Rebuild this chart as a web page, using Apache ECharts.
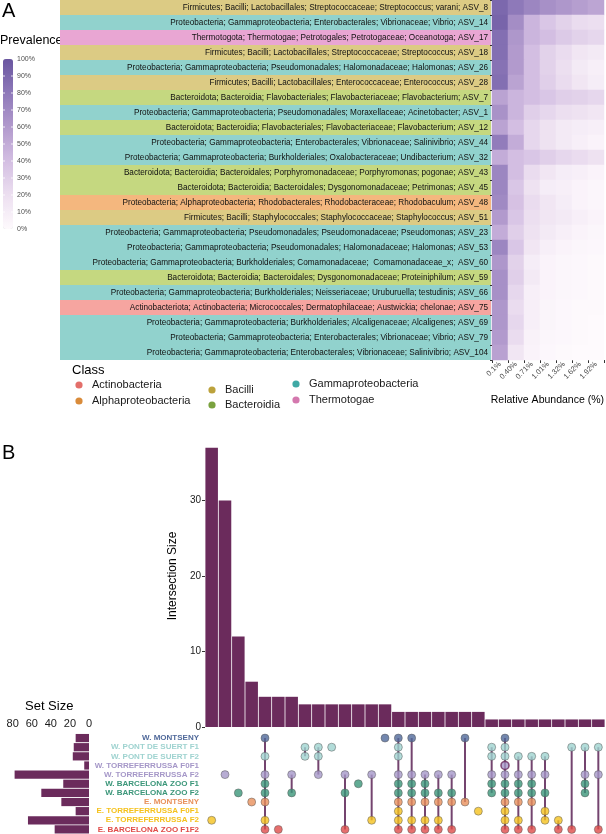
<!DOCTYPE html>
<html><head><meta charset="utf-8">
<script src="https://cdn.jsdelivr.net/npm/echarts@6/dist/echarts.min.js"></script>
<style>html,body{margin:0;padding:0;background:#fff}#c{width:606px;height:834px}</style>
</head><body><div id="c"></div>
<script>
// ---------- Panel A data ----------
const taxa = [
  'Firmicutes; Bacilli; Lactobacillales; Streptococcaceae; Streptococcus; varani; ASV_8',
  'Proteobacteria; Gammaproteobacteria; Enterobacterales; Vibrionaceae; Vibrio; ASV_14',
  'Thermotogota; Thermotogae; Petrotogales; Petrotogaceae; Oceanotoga; ASV_17',
  'Firmicutes; Bacilli; Lactobacillales; Streptococcaceae; Streptococcus; ASV_18',
  'Proteobacteria; Gammaproteobacteria; Pseudomonadales; Halomonadaceae; Halomonas; ASV_26',
  'Firmicutes; Bacilli; Lactobacillales; Enterococcaceae; Enterococcus; ASV_28',
  'Bacteroidota; Bacteroidia; Flavobacteriales; Flavobacteriaceae; Flavobacterium; ASV_7',
  'Proteobacteria; Gammaproteobacteria; Pseudomonadales; Moraxellaceae; Acinetobacter; ASV_1',
  'Bacteroidota; Bacteroidia; Flavobacteriales; Flavobacteriaceae; Flavobacterium; ASV_12',
  'Proteobacteria; Gammaproteobacteria; Enterobacterales; Vibrionaceae; Salinivibrio; ASV_44',
  'Proteobacteria; Gammaproteobacteria; Burkholderiales; Oxalobacteraceae; Undibacterium; ASV_32',
  'Bacteroidota; Bacteroidia; Bacteroidales; Porphyromonadaceae; Porphyromonas; pogonae; ASV_43',
  'Bacteroidota; Bacteroidia; Bacteroidales; Dysgonomonadaceae; Petrimonas; ASV_45',
  'Proteobacteria; Alphaproteobacteria; Rhodobacterales; Rhodobacteraceae; Rhodobaculum; ASV_48',
  'Firmicutes; Bacilli; Staphylococcales; Staphylococcaceae; Staphylococcus; ASV_51',
  'Proteobacteria; Gammaproteobacteria; Pseudomonadales; Pseudomonadaceae; Pseudomonas; ASV_23',
  'Proteobacteria; Gammaproteobacteria; Pseudomonadales; Halomonadaceae; Halomonas; ASV_53',
  'Proteobacteria; Gammaproteobacteria; Burkholderiales; Comamonadaceae;  Comamonadaceae_x;  ASV_60',
  'Bacteroidota; Bacteroidia; Bacteroidales; Dysgonomonadaceae; Proteiniphilum; ASV_59',
  'Proteobacteria; Gammaproteobacteria; Burkholderiales; Neisseriaceae; Uruburuella; testudinis; ASV_66',
  'Actinobacteriota; Actinobacteria; Micrococcales; Dermatophilaceae; Austwickia; chelonae; ASV_75',
  'Proteobacteria; Gammaproteobacteria; Burkholderiales; Alcaligenaceae; Alcaligenes; ASV_69',
  'Proteobacteria; Gammaproteobacteria; Enterobacterales; Vibrionaceae; Vibrio; ASV_79',
  'Proteobacteria; Gammaproteobacteria; Enterobacterales; Vibrionaceae; Salinivibrio; ASV_104'
];
const taxonClass = [
  'Bacilli','Gammaproteobacteria','Thermotogae','Bacilli','Gammaproteobacteria','Bacilli',
  'Bacteroidia','Gammaproteobacteria','Bacteroidia','Gammaproteobacteria','Gammaproteobacteria',
  'Bacteroidia','Bacteroidia','Alphaproteobacteria','Bacilli','Gammaproteobacteria',
  'Gammaproteobacteria','Gammaproteobacteria','Bacteroidia','Gammaproteobacteria',
  'Actinobacteria','Gammaproteobacteria','Gammaproteobacteria','Gammaproteobacteria'
];
const abundanceThresholds = ['0.1%','0.40%','0.71%','1.01%','1.32%','1.62%','1.92%'];
// prevalence (%) per taxon (row) at each abundance threshold (column)
const prevalence = [
  [90, 80, 72, 66, 62, 58, 54],
  [92, 68, 45, 35, 28, 22, 20],
  [86, 62, 45, 40, 33, 28, 25],
  [86, 60, 40, 28, 22, 15, 12],
  [84, 60, 40, 28, 20, 12, 8],
  [86, 55, 40, 30, 22, 15, 10],
  [55, 45, 40, 35, 30, 28, 25],
  [65, 45, 30, 25, 20, 18, 15],
  [55, 40, 25, 18, 12, 10, 8],
  [78, 50, 25, 18, 12, 8, 5],
  [50, 40, 35, 30, 25, 22, 18],
  [72, 40, 22, 15, 10, 8, 5],
  [72, 35, 18, 10, 8, 5, 3],
  [70, 38, 22, 15, 10, 5, 3],
  [60, 35, 20, 15, 12, 8, 5],
  [50, 30, 18, 12, 8, 5, 3],
  [72, 35, 15, 8, 5, 3, 2],
  [62, 28, 10, 5, 3, 2, 1],
  [66, 30, 12, 5, 3, 2, 1],
  [66, 25, 8, 5, 3, 2, 1],
  [62, 22, 8, 4, 2, 1, 1],
  [62, 25, 8, 4, 2, 1, 0],
  [60, 22, 6, 3, 2, 1, 0],
  [56, 15, 5, 2, 1, 0, 0]
];
const classNames = ['Actinobacteria','Alphaproteobacteria','Bacilli','Bacteroidia','Gammaproteobacteria','Thermotogae'];
const classPointColors = ['#e36f6a','#d98b3a','#bca23c','#7aa23f','#3fa9a5','#d478ae'];
const classBandColors = ['#f6a5a0','#f4b77e','#dccb84','#c5d880','#91d2cd','#e9a6d3'];
const prevalenceTicks = ['0%','10%','20%','30%','40%','50%','60%','70%','80%','90%','100%'];

// ---------- Panel B data ----------
const setNames = [
  'W. MONTSENY','W. PONT DE SUERT F1','W. PONT DE SUERT F2','W. TORREFERRUSSA F0F1',
  'W. TORREFERRUSSA F2','W. BARCELONA ZOO F1','W. BARCELONA ZOO F2','E. MONTSENY',
  'E. TORREFERRUSSA F0F1','E. TORREFERRUSSA F2','E. BARCELONA ZOO F1F2'
];
const setColors = ['#50699a','#9fd3d0','#9fd3d0','#a597c8','#a597c8','#3b9679','#3b9679','#e8905b','#f5c21e','#f5c21e','#e04b48'];
const setSizes = [14, 16, 17, 5, 78, 27, 50, 29, 14, 64, 36];
const setSizeTicks = [0, 20, 40, 60, 80];
const intersectionSizes = [37,30,12,6,4,4,4,3,3,3,3,3,3,3,2,2,2,2,2,2,2,1,1,1,1,1,1,1,1,1];
const intersectionTicks = [0, 10, 20, 30];
const intersectionMembers = [
  [9],[4],[6],[7],[0,2,4,5,6,7,9,10],[10],[4,6],[1,2],[1,2,4],[1],
  [4,6,10],[5],[4,9],[0],[0,1,2,4,5,6,7,8,9,10],[0,4,5,6,7,9,10],[4,5,6,7,9,10],
  [4,6,7,9,10],[4,6,7,10],[0,7],[8],[1,2,4,5,6],[0,1,2,3,4,5,6,7,8,9,10],
  [2,4,5,6,7,9,10],[2,4,5,6,7,10],[2,4,6,8,9],[9,10],[1,10],[1,4,5,6],[1,4,10]
];
const highlighted = [[22, 3]];

// ---------- build ----------
const FONT = '"Liberation Sans", Arial, Helvetica, sans-serif';
const chart = echarts.init(document.getElementById('c'));
const cols = intersectionSizes.map((_, i) => 'I' + (i + 1));

const heatData = [];
prevalence.forEach((row, r) => row.forEach((v, c) => heatData.push([c, r, v])));

const dotData = [];
const lineData = [];
intersectionMembers.forEach((m, i) => {
  m.forEach(s => {
    const hi = highlighted.some(h => h[0] === i && h[1] === s);
    dotData.push({value: [i, s], itemStyle: {color: setColors[s], borderColor: hi ? '#6b2b5c' : '#555', borderWidth: hi ? 1.6 : 0.6}});
  });
  if (m.length > 1) lineData.push([i, Math.min(...m), Math.max(...m)]);
});

const graphics = [];
graphics.push({type:'text', left: 2, top: 1, style:{text:'A', font:'20px ' + FONT, fill:'#000'}});
graphics.push({type:'text', left: 0, top: 34, style:{text:'Prevalence', font:'12.5px ' + FONT, fill:'#000'}});
prevalenceTicks.forEach((t, k) => {
  graphics.push({type:'text', x: 17, y: 229 - 17 * k, style:{text:t, font:'7px ' + FONT, fill:'#4d4d4d', textVerticalAlign:'middle'}});
  if (k > 0 && k < 10) {
    graphics.push({type:'line', shape:{x1:3, y1:229 - 17*k, x2:5, y2:229 - 17*k}, style:{stroke:'#fff', lineWidth:0.8}, z: 100});
    graphics.push({type:'line', shape:{x1:11, y1:229 - 17*k, x2:13, y2:229 - 17*k}, style:{stroke:'#fff', lineWidth:0.8}, z: 100});
  }
});
graphics.push({type:'text', x: 72, y: 364, style:{text:'Class', font:'13px ' + FONT, fill:'#000'}});
const legendPos = [[79,385],[79,401],[212,390],[212,405],[296,384],[296,400]];
classNames.forEach((n, i) => {
  const p = legendPos[i];
  graphics.push({type:'circle', shape:{cx:p[0], cy:p[1], r:3.6}, style:{fill:classPointColors[i]}});
  graphics.push({type:'text', x:p[0] + 13, y:p[1], style:{text:n, font:'11px ' + FONT, fill:'#1a1a1a', textVerticalAlign:'middle'}});
});
graphics.push({type:'text', x: 604, y: 400, style:{text:'Relative Abundance (%)', font:'10.5px ' + FONT, fill:'#000', textAlign:'right', textVerticalAlign:'middle'}});
graphics.push({type:'text', left: 2, top: 443, style:{text:'B', font:'20px ' + FONT, fill:'#000'}});
graphics.push({type:'text', x: 25, y: 706, style:{text:'Set Size', font:'13px ' + FONT, fill:'#000', textVerticalAlign:'middle'}});

const option = {
  animation: false,
  backgroundColor: '#fff',
  textStyle: {fontFamily: FONT},
  grid: [
    {left: 60, top: 0, width: 431, height: 360},
    {left: 492, top: 0, width: 112, height: 360},
    {left: 205, top: 425, width: 400, height: 302},
    {left: 205, top: 733.5, width: 400, height: 100.8},
    {left: 12.7, top: 733.5, width: 76.3, height: 100.8}
  ],
  xAxis: [
    {gridIndex: 0, type: 'value', min: 0, max: 1, show: false},
    {gridIndex: 1, type: 'category', data: abundanceThresholds, position: 'bottom',
      axisLine: {show: false}, axisTick: {show: true, length: 3, lineStyle: {color: '#333'}},
      axisLabel: {rotate: 45, fontSize: 7.5, color: '#4d4d4d', margin: 3, interval: 0}},
    {gridIndex: 2, type: 'category', data: cols, show: false},
    {gridIndex: 3, type: 'category', data: cols, show: false},
    {gridIndex: 4, type: 'value', inverse: true, min: 0, max: 80, interval: 20, position: 'top',
      axisLine: {show: false}, axisTick: {show: false}, splitLine: {show: false},
      axisLabel: {fontSize: 11, color: '#1a1a1a', margin: 4, customValues: setSizeTicks}}
  ],
  yAxis: [
    {gridIndex: 0, type: 'category', data: taxa, inverse: true, show: false},
    {gridIndex: 1, type: 'category', data: taxa, inverse: true, z: 10,
      axisLine: {show: false}, axisTick: {show: true, length: 2, lineStyle: {color: '#333'}},
      axisLabel: {fontSize: 8.2, color: '#111', margin: 4, interval: 0}},
    {gridIndex: 2, type: 'value', min: 0, max: 40, name: 'Intersection Size', nameLocation: 'middle',
      nameRotate: 90, nameGap: 21, nameTextStyle: {fontSize: 12, color: '#000'},
      axisLine: {show: false}, axisTick: {show: true, length: 3, lineStyle: {color: '#333'}, customValues: intersectionTicks},
      splitLine: {show: false},
      axisLabel: {fontSize: 10, color: '#1a1a1a', margin: 4, customValues: intersectionTicks}},
    {gridIndex: 3, type: 'category', data: setNames, inverse: true,
      axisLine: {show: false}, axisTick: {show: false},
      axisLabel: {fontSize: 8, fontWeight: 'bold', margin: 6, interval: 0,
        color: (v, i) => setColors[setNames.indexOf(v)]}},
    {gridIndex: 4, type: 'category', data: setNames, inverse: true, show: false}
  ],
  visualMap: {
    type: 'continuous', seriesIndex: 1, dimension: 2, min: 0, max: 100,
    left: 3, top: 59, itemWidth: 10, itemHeight: 170, padding: 0,
    text: null, calculable: false, showLabel: false,
    inRange: {color: ['#fefafd', '#ecdff0', '#d3bee2', '#b29acd', '#8e79b9', '#6a56a0']}
  },
  graphic: graphics,
  series: [
    {type: 'bar', xAxisIndex: 0, yAxisIndex: 0, silent: true, barCategoryGap: '0%', z: 1,
      data: taxa.map((t, i) => ({value: 1, itemStyle: {color: classBandColors[classNames.indexOf(taxonClass[i])]}}))},
    {type: 'heatmap', xAxisIndex: 1, yAxisIndex: 1, data: heatData, itemStyle: {borderWidth: 0}},
    {type: 'bar', xAxisIndex: 2, yAxisIndex: 2, data: intersectionSizes, barCategoryGap: '6%',
      itemStyle: {color: '#6b2b5c'}},
    {type: 'custom', xAxisIndex: 3, yAxisIndex: 3, data: lineData, encode: {x: 0, y: [1, 2]}, z: 2,
      renderItem: (params, api) => {
        const p1 = api.coord([api.value(0), api.value(1)]);
        const p2 = api.coord([api.value(0), api.value(2)]);
        return {type: 'line', shape: {x1: p1[0], y1: p1[1], x2: p2[0], y2: p2[1]},
          style: {stroke: '#74446f', lineWidth: 2}};
      }},
    {type: 'scatter', xAxisIndex: 3, yAxisIndex: 3, data: dotData, symbolSize: 8, z: 3},
    {type: 'bar', xAxisIndex: 4, yAxisIndex: 4, data: setSizes, barCategoryGap: '10%',
      itemStyle: {color: '#6b2b5c'}}
  ]
};
chart.setOption(option);
</script>
</body></html>
